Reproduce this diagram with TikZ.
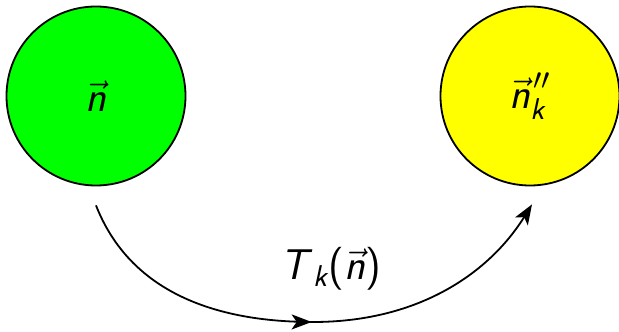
\RequirePackage{fix-cm}
\documentclass[tikz,border=0pt]{standalone}
\usepackage{amsmath}
\usepackage{xcolor}
\usepackage{tikz}
\usetikzlibrary{positioning, arrows.meta, decorations.markings}

\newcommand{\sfit}[1]{\textsf{\textsl{#1}}}
\newcommand{\vn}{\vec{\sfit{n}}}

\begin{document}
\begin{tikzpicture}[
			x=1pt, y=1pt,
			state/.style={circle, draw, line width=1.8pt, minimum size=179pt, inner sep=0pt, font=\fontsize{43}{50}\selectfont},
			arrow/.style={line width=1.8pt, -{Stealth[length=20pt, width=15pt, inset=5pt]}},
			midarrow/.style={postaction={decorate}, decoration={markings, mark=at position 0.5 with {\arrow{Stealth[length=20pt, width=15pt, inset=5pt]}}}},
			font=\fontsize{43}{50}\selectfont
			]
			\useasboundingbox (0,0) rectangle (619,332);
			
			% Nodes
			\node[state, fill={rgb,255:red,0;green,255;blue,0}] (nvec) at (96,236) {$\vn$};
			\node[state, fill={rgb,255:red,255;green,255;blue,0}] (nk) at (530,236) {$\vn^{\kern3pt\prime\prime}_{\sfit{k}}$};
			\coordinate[below=19pt of nvec] (from);
			\coordinate[below=18pt of nk, xshift=2pt] (to);
			\node (map) at (331,63) {$\sfit{T}_{\sfit{k}}\textsf{(}\vn\textsf{)}$};
			
			% Arrows
			\draw[arrow, midarrow] (from) .. controls (130,40) and (215,10) .. (313,10) .. controls (420,10) and (490,60) .. (to);
			
\end{tikzpicture}
\end{document}
